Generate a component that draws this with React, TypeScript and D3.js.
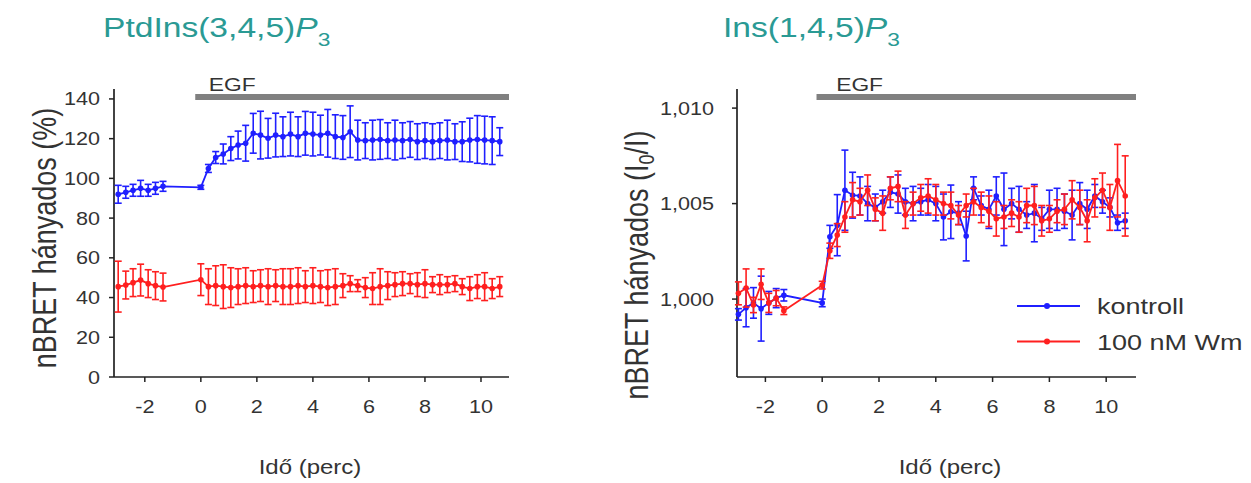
import React from 'react';
import * as d3 from 'd3';

// time points (min)
const timePts = [
  -2.95, -2.68, -2.42, -2.15, -1.88, -1.62, -1.35,
  0, 0.27, 0.53, 0.8, 1.07, 1.33, 1.6, 1.87, 2.13, 2.4, 2.67, 2.93, 3.2, 3.47, 3.73, 4.0,
  4.27, 4.53, 4.8, 5.07, 5.33, 5.6, 5.87, 6.13, 6.4, 6.67, 6.93, 7.2, 7.47, 7.73, 8.0,
  8.27, 8.53, 8.8, 9.07, 9.33, 9.6, 9.87, 10.13, 10.4, 10.67,
];

// Left panel: PtdIns(3,4,5)P3 (%)
const pipKontroll = [
  92, 93, 94, 95, 94, 95, 96,
  95.5, 105, 110.5, 112.3, 115, 116.8, 117.7, 122.7, 121.8, 120.2, 121.8, 121.0, 122.3, 121.0, 122.7,
  122.3, 121.8, 122.7, 121.0, 120.6, 123.5, 119.3, 119.0, 119.3, 119.6, 119.0, 119.3, 119.0, 119.6,
  118.5, 119.0, 118.5, 119.0, 119.3, 118.5, 118.5, 119.3, 119.6, 119.3, 119.0, 118.5,
];
const pipKontrollErr = [
  4.5, 3, 3, 4, 3, 3, 2.5,
  1, 2, 3, 5, 6, 7, 9, 10, 12, 10, 11, 10, 11, 10, 11,
  11, 10, 12, 11, 11, 13, 10, 9, 10, 10, 9, 10, 9, 9,
  9, 9, 9, 9, 10, 9, 10, 11, 12, 12, 12, 7,
];
const pipWm = [
  45.5, 46.3, 47.5, 48.8, 47, 46, 45.3,
  49, 45.5, 46, 45.5, 45, 45.5, 46, 45.5, 46, 45.5, 46, 45.5, 45.5, 46, 45.5,
  46, 45.5, 45, 45.5, 46, 47, 46, 45, 44.5, 45.5, 46, 46.5, 47, 47, 46.5,
  47, 46.5, 46.5, 46.5, 47, 45.5, 44.5, 45.5, 45.5, 44.5, 45.5,
];
const pipWmErr = [
  12.8, 7, 7, 8, 7, 7, 7,
  8, 9, 10, 11, 10, 9, 9, 8, 8, 9, 8, 9, 9, 9, 8,
  9, 8, 9, 9, 6, 4, 3, 5, 8, 9, 7, 6, 6, 5, 6,
  7, 4, 5, 4, 4, 4, 6, 6, 7, 5, 5,
];

// Right panel: Ins(1,4,5)P3 (I0/I)
const ipKontroll = [
  0.9992, 0.99955, 0.9998, 0.9995, 0.9998, 1.00005, 1.0002,
  0.9998, 1.00326, 1.00387, 1.0057, 1.00544, 1.0054, 1.005, 1.0048, 1.0051, 1.0056, 1.0055,
  1.0051, 1.005, 1.0051, 1.0052, 1.005, 1.0043, 1.00457, 1.0045, 1.0033, 1.0058, 1.0049, 1.0047,
  1.0054, 1.0047, 1.005, 1.0047, 1.0044, 1.0045, 1.0042, 1.0047, 1.0047, 1.0046, 1.0044, 1.005,
  1.0047, 1.0054, 1.0051, 1.0048, 1.004, 1.0041,
];
const ipKontrollErr = [
  0.0003, 0.0010, 0.0008, 0.0017, 0.0006, 0.0005, 0.0003,
  0.0002, 0.0006, 0.0016, 0.0021, 0.0012, 0.0010, 0.0009, 0.0007, 0.0006, 0.0008, 0.0010,
  0.0007, 0.0009, 0.0007, 0.0008, 0.0009, 0.0012, 0.0014, 0.0006, 0.0013, 0.0006, 0.0005, 0.0010,
  0.0010, 0.0019, 0.0008, 0.0012, 0.0007, 0.0015, 0.0006, 0.0010, 0.0011, 0.0009, 0.0013, 0.0011,
  0.0010, 0.0006, 0.0006, 0.0005, 0.0004, 0.0004,
];
const ipWm = [
  1.0003, 1.00058, 0.99969, 1.00078, 0.9998, 1.00005, 0.99939,
  1.00073, 1.00253, 1.00335, 1.0043, 1.0052, 1.0051, 1.0057, 1.0047, 1.0045, 1.0058, 1.0059,
  1.0044, 1.005, 1.0053, 1.0054, 1.0052, 1.005, 1.0049, 1.0044, 1.0049, 1.0051, 1.0048, 1.0046,
  1.0042, 1.0043, 1.0045, 1.0043, 1.0049, 1.0049, 1.0041, 1.0042, 1.0046, 1.0047, 1.0052, 1.0048,
  1.0041, 1.0053, 1.0057, 1.0048, 1.0062, 1.0054,
];
const ipWmErr = [
  0.0006, 0.0010, 0.0004, 0.0008, 0.0005, 0.0004, 0.0002,
  0.0002, 0.0004, 0.0006, 0.0008, 0.0009, 0.0007, 0.0008, 0.0006, 0.0009, 0.0006, 0.0008,
  0.0007, 0.0006, 0.0007, 0.0009, 0.0008, 0.0006, 0.0007, 0.0005, 0.0006, 0.0007, 0.0008, 0.0008,
  0.0009, 0.0006, 0.0007, 0.0008, 0.0009, 0.0010, 0.0008, 0.0007, 0.0006, 0.0008, 0.0010, 0.0009,
  0.0011, 0.0010, 0.0009, 0.0012, 0.0019, 0.0021,
];

const xTicks = [-2, 0, 2, 4, 6, 8, 10];
const leftYTicks = [0, 20, 40, 60, 80, 100, 120, 140];
const rightYTicks = [1.0, 1.005, 1.01];
const rightYTickLabels = ['1,000', '1,005', '1,010'];
const legendLabels = ['kontroll', '100 nM Wm'];

const BLUE = '#1f1fff';
const RED = '#ff1f1f';
const TEAL = '#2a9a94';
const AXIS = '#222';
const TXT = '#333';
const FONT = 'Arial, "Liberation Sans", Helvetica, sans-serif';
const SX = 1.2;

function HText({ x, y, anchor = 'start', size, fill = TXT, children }: any) {
  return (
    <text
      transform={`translate(${x},${y}) scale(${SX},1)`}
      textAnchor={anchor}
      fontSize={size}
      fill={fill}
      fontFamily={FONT}
    >
      {children}
    </text>
  );
}

function Series({ xs, ys, vals, errs, color }: any) {
  const line = d3
    .line<number>()
    .x((_, i) => xs(timePts[i]))
    .y((d) => ys(d));
  return (
    <g>
      {vals.map((v: number, i: number) => {
        const cx = xs(timePts[i]);
        const y1 = ys(v + errs[i]);
        const y2 = ys(v - errs[i]);
        return (
          <g key={i} stroke={color} strokeWidth={1.6}>
            <line x1={cx} x2={cx} y1={y1} y2={y2} />
            <line x1={cx - 3.5} x2={cx + 3.5} y1={y1} y2={y1} />
            <line x1={cx - 3.5} x2={cx + 3.5} y1={y2} y2={y2} />
          </g>
        );
      })}
      <path d={line(vals) || ''} fill="none" stroke={color} strokeWidth={1.8} />
      {vals.map((v: number, i: number) => (
        <circle key={i} cx={xs(timePts[i])} cy={ys(v)} r={2.8} fill={color} />
      ))}
    </g>
  );
}

function Panel(p: any) {
  const { xs, ys, yTicks, yLabels, yTitle, title, titleX, seriesA, seriesB, xTitleX, yTitleX, yTitleY, tickGap, egfOff } = p;
  const [x0, x1] = xs.range();
  const [yb, yt] = ys.range();
  return (
    <g>
      {/* title */}
      <text transform={`translate(${titleX},37) scale(${SX},1)`} fontFamily={FONT} fontSize={28} fill={TEAL}>
        {title}
        <tspan fontStyle="italic">P</tspan>
        <tspan fontSize={19} dy={9}>3</tspan>
      </text>
      {/* EGF bar */}
      <line x1={xs(-0.2)} x2={x1} y1={97} y2={97} stroke="#808080" strokeWidth={6} />
      <HText x={xs(0) + egfOff} y={91} size={19}>EGF</HText>
      {/* axes */}
      <line x1={x0} x2={x1} y1={yb} y2={yb} stroke={AXIS} strokeWidth={1.7} />
      <line x1={x0} x2={x0} y1={yb} y2={yt} stroke={AXIS} strokeWidth={1.7} />
      {xTicks.map((t) => (
        <g key={t}>
          <line x1={xs(t)} x2={xs(t)} y1={yb} y2={yb + 5} stroke={AXIS} strokeWidth={1.5} />
          <HText x={xs(t)} y={yb + 36} anchor="middle" size={18}>{t}</HText>
        </g>
      ))}
      {yTicks.map((t: number, i: number) => (
        <g key={t}>
          <line x1={x0 - 5} x2={x0} y1={ys(t)} y2={ys(t)} stroke={AXIS} strokeWidth={1.5} />
          <HText x={x0 - tickGap} y={ys(t) + 6.5} anchor="end" size={18}>{yLabels[i]}</HText>
        </g>
      ))}
      {/* axis titles */}
      <HText x={xTitleX} y={474} anchor="middle" size={20}>Idő (perc)</HText>
      <text
        transform={`translate(${yTitleX},${yTitleY}) scale(${SX},1) rotate(-90)`}
        textAnchor="middle"
        fontFamily={FONT}
        fontSize={27}
        fill={TXT}
      >
        {yTitle}
      </text>
      <Series xs={xs} ys={ys} {...seriesA} color={BLUE} />
      <Series xs={xs} ys={ys} {...seriesB} color={RED} />
    </g>
  );
}

export default function App() {
  const xL = d3.scaleLinear().domain([-3.1, 11.0]).range([114, 509]);
  const yL = d3.scaleLinear().domain([0, 145]).range([377, 89]);
  const xR = d3.scaleLinear().domain([-3.0, 11.05]).range([737, 1136]);
  const yR = d3.scaleLinear().domain([0.99592, 1.011]).range([377, 89]);

  return (
    <svg
      width={1251}
      height={483}
      style={{ position: 'absolute', left: 0, top: 0, background: '#fff' }}
    >
      <rect width={1251} height={483} fill="#fff" />
      <Panel
        xs={xL}
        ys={yL}
        yTicks={leftYTicks}
        yLabels={leftYTicks.map(String)}
        yTitle="nBRET hányados (%)"
        title="PtdIns(3,4,5)"
        titleX={103}
        seriesA={{ vals: pipKontroll, errs: pipKontrollErr }}
        seriesB={{ vals: pipWm, errs: pipWmErr }}
        xTitleX={310}
        yTitleX={56}
        yTitleY={238}
        tickGap={14}
        egfOff={8}
      />
      <Panel
        xs={xR}
        ys={yR}
        yTicks={rightYTicks}
        yLabels={rightYTickLabels}
        yTitle={
          <>
            nBRET hányados (I<tspan fontSize={18} dy={5}>0</tspan>
            <tspan dy={-5}>/I)</tspan>
          </>
        }
        title="Ins(1,4,5)"
        titleX={723}
        seriesA={{ vals: ipKontroll, errs: ipKontrollErr }}
        seriesB={{ vals: ipWm, errs: ipWmErr }}
        xTitleX={950}
        yTitleX={648}
        yTitleY={265}
        tickGap={23}
        egfOff={14}
      />
      {/* legend */}
      {legendLabels.map((lab, i) => {
        const y = 306 + i * 35.5;
        const c = i === 0 ? BLUE : RED;
        return (
          <g key={lab}>
            <line x1={1017} x2={1080} y1={y} y2={y} stroke={c} strokeWidth={2} />
            <circle cx={1047} cy={y} r={3} fill={c} />
            <HText x={1097} y={y + 8} size={22.5}>{lab}</HText>
          </g>
        );
      })}
    </svg>
  );
}
